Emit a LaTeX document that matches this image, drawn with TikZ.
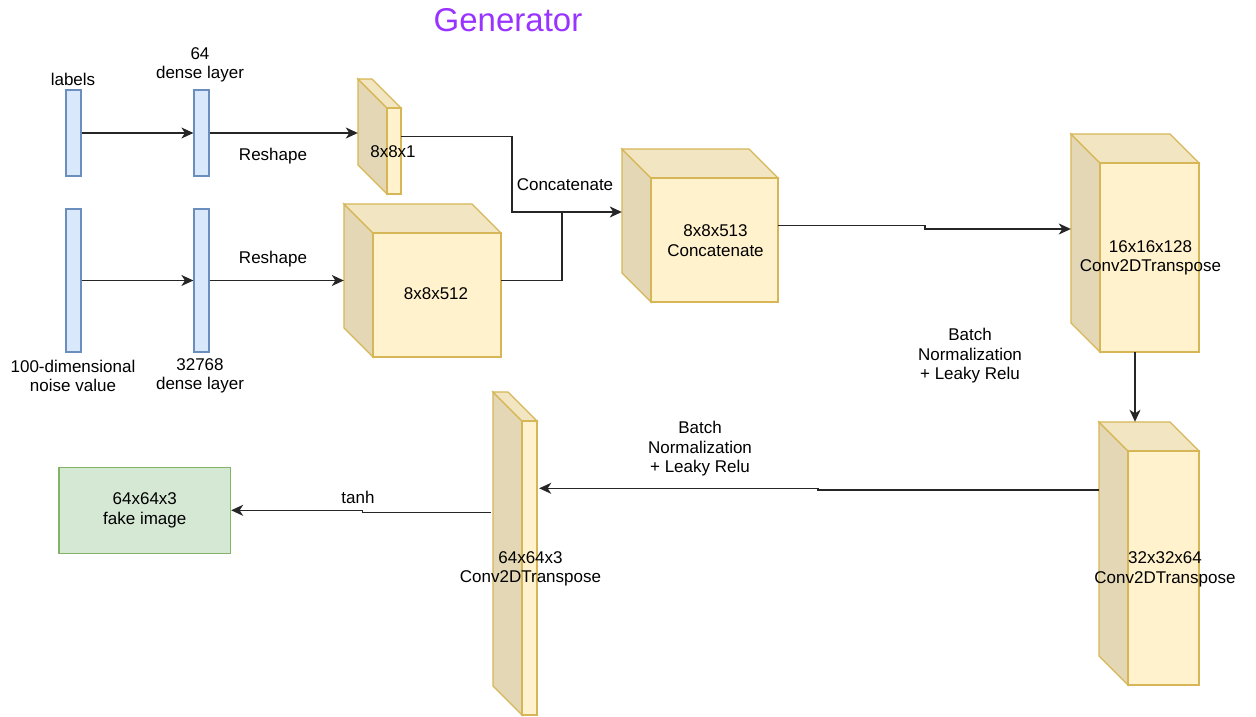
\documentclass[tikz,border=0pt]{standalone}
\usepackage{fontspec}
\setmainfont{Liberation Sans}
\usetikzlibrary{arrows.meta,fit}

\definecolor{barfill}{HTML}{DAE8FC}
\definecolor{barline}{HTML}{6C8EBF}
\definecolor{cubefill}{HTML}{FFF2CC}
\definecolor{cubeline}{HTML}{D6B656}
\definecolor{imgfill}{HTML}{D5E8D4}
\definecolor{imgline}{HTML}{82B366}
\definecolor{titlecol}{HTML}{9933FF}

\tikzset{
  lbl/.style={font=\fontsize{17}{19.5}\selectfont, align=center, inner sep=0pt},
  bar/.style={draw=barline, fill=barfill, line width=1.2pt, minimum width=15pt, inner sep=0pt},
  link/.style={line width=1.4pt, draw=black!85},
  arr/.style={link, -{Stealth[length=12pt,width=11pt,inset=3.5pt]}},
  cubeface/.style={draw=cubeline, line width=1.3pt, line join=miter},
}

% cube block: name, left, top, right, bottom, depth
\newcommand\blockcube[6]{%
  \node[fit={(#2,#3) (#4,#5)}, inner sep=0pt] (#1) {};
  \filldraw[cubeface, fill=cubefill!89!black]
    (#2,#3) -- ({#2+#6},{#3+#6}) -- ({#2+#6},#5) -- (#2,{#5-#6}) -- cycle;
  \filldraw[cubeface, fill=cubefill!95!black]
    (#2,#3) -- ({#4-#6},#3) -- (#4,{#3+#6}) -- ({#2+#6},{#3+#6}) -- cycle;
  \filldraw[cubeface, fill=cubefill] ({#2+#6},{#3+#6}) rectangle (#4,#5);
}

\begin{document}
\begin{tikzpicture}[x=1pt,y=-1pt]
\useasboundingbox (0,0) rectangle (1256,717);

% title
\node[font=\fontsize{33}{40}\selectfont, text=titlecol, inner sep=0pt] (title) at (508,20) {Generator};

% input vectors and dense layers
\node[bar, minimum height=86pt]  (lab) at (73.5,133) {};
\node[bar, minimum height=86pt]  (d1)  at (201.5,133) {};
\node[bar, minimum height=143pt] (nz)  at (73.5,280.5) {};
\node[bar, minimum height=143pt] (d2)  at (201.5,280.5) {};

\node[lbl] (tlab) at (73,79) {labels};
\node[lbl] (td1) at (200,65) {64\\dense layer};
\node[lbl] (tnz) at (73,376) {100-dimensional\\noise value};
\node[lbl] (td2) at (200,376) {32768\\dense layer};

% feature blocks
\blockcube{c1}{358}{79}{401}{194}{29}
\blockcube{c2}{344}{204}{501}{357}{29}
\blockcube{c3}{622}{149}{778}{302}{29}
\blockcube{c4}{1071}{134}{1199}{352}{29}
\blockcube{c5}{1099}{422}{1199}{685}{29}
\blockcube{c6}{493}{392}{537}{715}{29}

\node[lbl] (tc1) at (393,152) {8x8x1};
\node[lbl] (tc2) at (436,294) {8x8x512};
\node[lbl] (tc3) at (715.5,240.5) {8x8x513\\Concatenate};
\node[lbl] (tc4) at (1150.5,258) {16x16x128\\Conv2DTranspose};
\node[lbl] (tc5) at (1165,569.5) {32x32x64\\Conv2DTranspose};
\node[lbl] (tc6) at (530.5,569) {64x64x3\\Conv2DTranspose};

% output image
\node[draw=imgline, fill=imgfill, line width=1.2pt, minimum width=171.5pt, minimum height=86pt,
      lbl] (img) at (144.8,510.3) {64x64x3\\fake image};

% edge labels
\node[lbl] (rs1) at (273,156.5) {Reshape};
\node[lbl] (rs2) at (273,259) {Reshape};
\node[lbl] (cat) at (565,185) {Concatenate};
\node[lbl] (bn1) at (970,356) {Batch\\Normalization\\+ Leaky Relu};
\node[lbl] (bn2) at (700,449) {Batch\\Normalization\\+ Leaky Relu};
\node[lbl] (th)  at (358,497.5) {tanh};

% bend points
\coordinate (j1) at (512,212);
\coordinate (j2) at (562,212);
\coordinate (k1) at (925,225.5);
\coordinate (k2) at (925,229);
\coordinate (m1) at (818,490);
\coordinate (m2) at (818,488.3);
\coordinate (n0) at (490.5,512.5);
\coordinate (n1) at (362.5,512.5);
\coordinate (n2) at (362.5,510.3);

% connectors
\draw[arr] (lab.east) -- (d1.west);
\draw[arr] (nz.east) -- (d2.west);
\draw[arr] (d1.east) -- (c1.west |- d1.east);
\draw[arr] (d2.east) -- (c2.west |- d2.east);
\draw[arr] (c1.east) -| (j1) -- (c3.west |- j1);
\draw[link] (c2.east) -| (j2);
\draw[arr] (c3.east) -- (k1) -- (k2) -- (c4.west |- k2);
\draw[arr] (c4.south) -- (c4.south |- c5.north);
\draw[arr] (c5.west |- m1) -- (m1) -- (m2) -- ([xshift=2pt]c6.east |- m2);
\draw[arr] (n0) -- (n1) -- (n2) -- (img.east);

\end{tikzpicture}
\end{document}
